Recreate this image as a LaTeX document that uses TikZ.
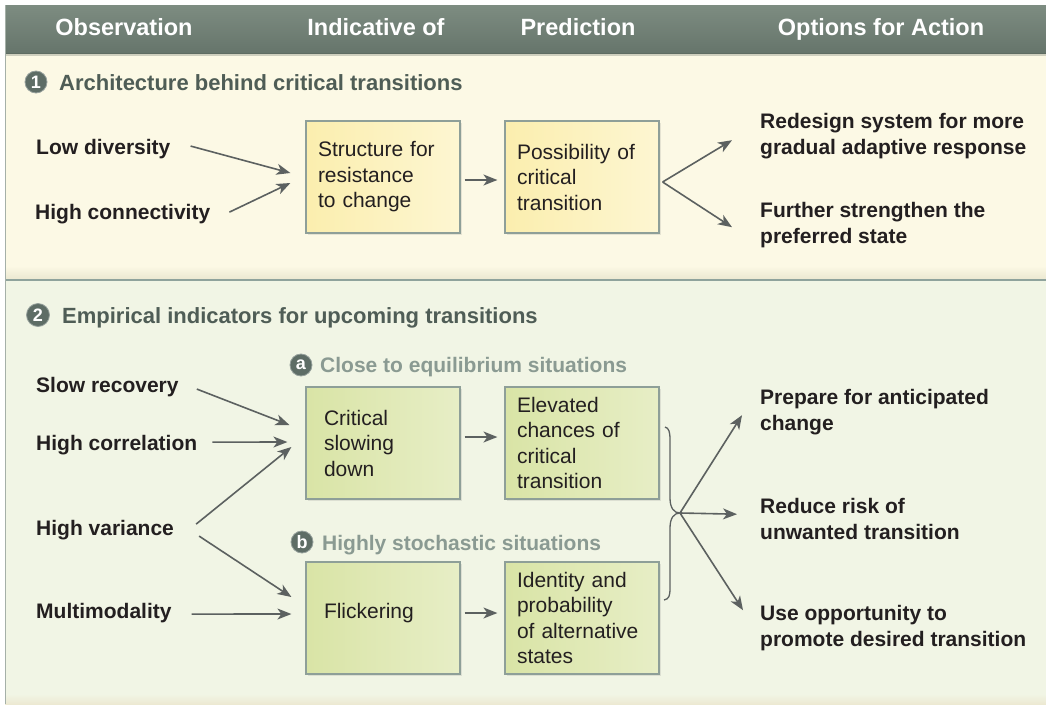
\documentclass[tikz,border=0pt]{standalone}
\usepackage{fontspec}
\setmainfont{Liberation Sans}
\usetikzlibrary{arrows.meta,calc,shadows}
\definecolor{headerc}{HTML}{7D8C81}
\definecolor{headerd}{HTML}{66756B}
\definecolor{secone}{HTML}{FCF9E5}
\definecolor{seconed}{HTML}{ECE9D2}
\definecolor{sectwo}{HTML}{F1F5E5}
\definecolor{sepc}{HTML}{8FA39C}
\definecolor{bordc}{HTML}{A5B0A8}
\definecolor{titlec}{HTML}{4F5D56}
\definecolor{subc}{HTML}{8A9A92}
\definecolor{circc}{HTML}{5E6D66}
\definecolor{boxyA}{HTML}{FBEEAE}
\definecolor{boxyB}{HTML}{FDF6D2}
\definecolor{boxgA}{HTML}{D9E4A6}
\definecolor{boxgB}{HTML}{E7EEC6}
\definecolor{boxbord}{HTML}{8E9F98}
\definecolor{arrowc}{HTML}{5C6160}
\definecolor{textc}{HTML}{231F20}
\tikzset{
  hdr/.style={text=white,font=\bfseries\fontsize{23.5}{26}\selectfont,inner sep=0},
  sectitle/.style={text=titlec,font=\bfseries\fontsize{22}{26}\selectfont,inner sep=0},
  subtitle/.style={text=subc,font=\bfseries\fontsize{21}{26}\selectfont,inner sep=0},
  numtext/.style={text=white,font=\bfseries\fontsize{18}{18}\selectfont,inner sep=0pt},
  numdisc/.style={fill=circc,draw=circc!65!white,line width=0.8pt},
  lab/.style={text=textc,font=\bfseries\fontsize{21}{26}\selectfont,inner sep=0},
  act/.style={text=textc,font=\bfseries\fontsize{21}{25.5}\selectfont,inner sep=0,align=left,anchor=west},
  basebox/.style={draw=boxbord,line width=1.2,minimum width=154,minimum height=112,
    align=left,text=textc,font=\fontsize{21}{25.5}\selectfont,inner ysep=4,
    drop shadow={opacity=0.18,shadow xshift=1.5pt,shadow yshift=-1.5pt}},
  ybox/.style={basebox,left color=boxyA,right color=boxyB},
  gbox/.style={basebox,left color=boxgA,right color=boxgB},
  narrowpad/.style={inner xsep=12,text width=130},
  widepad/.style={inner xsep=18,text width=118},
  arr/.style={draw=arrowc,line width=1.6,-{Stealth[length=14pt,width=11pt,inset=4pt]}},
  bracec/.style={draw=arrowc,line width=1.3}
}
\begin{document}
\begin{tikzpicture}[x=1pt,y=-1pt]
\useasboundingbox (0,0) rectangle (1046,704);
% backgrounds
\fill[white] (0,0) rectangle (1046,704);
\fill[secone] (5,53) rectangle (1046,279);
\shade[top color=secone,bottom color=seconed] (5,266) rectangle (1046,278.5);
\fill[sectwo] (5,280) rectangle (1046,704);
\shade[top color=sectwo,bottom color=seconed] (5,694) rectangle (1046,704);
\shade[top color=headerc,bottom color=headerd] (5,5) rectangle (1046,53);
\fill[headerd!70!black,opacity=0.25] (5,53) rectangle (1046,56);
\draw[sepc,line width=2] (5,279.5) -- (1046,279.5);
\draw[bordc,line width=1.2] (5.6,5) -- (5.6,704);

% header
\node[hdr,anchor=base] (hobs) at (124,35) {Observation};
\node[hdr,anchor=base] (hind) at (376,35) {Indicative of};
\node[hdr,anchor=base] (hpre) at (578,35) {Prediction};
\node[hdr,anchor=base] (hopt) at (881,35) {Options for Action};

% section 1
\coordinate (p1) at (36,82);
\path[numdisc] (p1) circle (11pt);
\node[numtext] (c1) at (p1) {1};
\node[sectitle,anchor=base west] (t1) at (59,90) {Architecture behind critical transitions};

\node[lab,anchor=base west] (lowdiv) at (36,154.5) {Low diversity};
\node[lab,anchor=base west] (highcon) at (35,219.5) {High connectivity};

\node[ybox,narrowpad] (boxA) at (383,177) {Structure for\\resistance\\to change};
\node[ybox,narrowpad] (boxB) at (582,177) {Possibility of\\critical\\transition};

\node[act] (act1) at (760,136.2) {\strut Redesign system for more\\gradual adaptive response\strut};
\node[act] (act2) at (760,225.2) {\strut Further strengthen the\\preferred state\strut};

\draw[arr] ($(lowdiv.east)+(20,-3)$) -- ($(boxA.west)+(-15,-4)$);
\draw[arr] ($(highcon.east)+(19,-2)$) -- ($(boxA.west)+(-15,6)$);
\draw[arr] ($(boxA.east)+(4,3)$) -- ($(boxB.west)+(-7,3)$);
\coordinate (fork1) at ($(boxB.east)+(3,5)$);
\draw[arr] (fork1) -- ($(act1.west)+(-28,4)$);
\draw[arr] (fork1) -- ($(act2.west)+(-28,2)$);

% section 2
\coordinate (p2) at (38,315);
\path[numdisc] (p2) circle (11.5pt);
\node[numtext] (c2) at (p2) {2};
\node[sectitle,anchor=base west] (t2) at (62,323) {Empirical indicators for upcoming transitions};

\coordinate (pa) at (301,365);
\path[numdisc] (pa) circle (11pt);
\node[numtext] (ca) at (pa) {a};
\node[subtitle,anchor=base west] (ta) at (320,372.5) {Close to equilibrium situations};
\coordinate (pb) at (302,542);
\path[numdisc] (pb) circle (11pt);
\node[numtext] (cb) at (pb) {b};
\node[subtitle,anchor=base west] (tb) at (322,550.5) {Highly stochastic situations};

\node[lab,anchor=base west] (slowrec) at (36,392.5) {Slow recovery};
\node[lab,anchor=base west] (highcor) at (36,450.5) {High correlation};
\node[lab,anchor=base west] (highvar) at (36,535.5) {High variance};
\node[lab,anchor=base west] (multi) at (36,618.5) {Multimodality};

\node[gbox,widepad] (boxC) at (383,443) {Critical\\slowing\\down};
\node[gbox,narrowpad] (boxD) at (582,443) {Elevated\\chances of\\critical\\transition};
\node[gbox,widepad] (boxE) at (383,618) {Flickering\rule[-15pt]{0pt}{15pt}};
\node[gbox,narrowpad] (boxF) at (582,618) {Identity and\\probability\\of alternative\\states};

\node[act] (act3) at (760,412.2) {\strut Prepare for anticipated\\change\strut};
\node[act] (act4) at (760,521.2) {\strut Reduce risk of\\unwanted transition\strut};
\node[act] (act5) at (760,628.2) {\strut Use opportunity to\\promote desired transition\strut};

\draw[arr] ($(slowrec.east)+(18,2)$) -- ($(boxC.west)+(-16,-18)$);
\draw[arr] ($(highcor.east)+(15,-3)$) -- ($(boxC.west)+(-18,-1)$);
\draw[arr] ($(highvar.east)+(22,-6)$) -- ($(boxC.west)+(-14,4)$);
\draw[arr] ($(highvar.east)+(25,6)$) -- ($(boxE.west)+(-14,-21)$);
\draw[arr] ($(multi.east)+(20,1)$) -- ($(boxE.west)+(-14,-4)$);
\draw[arr] ($(boxC.east)+(4,-6)$) -- ($(boxD.west)+(-7,-6)$);
\draw[arr] ($(boxE.east)+(4,-5)$) -- ($(boxF.west)+(-7,-5)$);

% brace
\coordinate (bt) at (680,513);
\draw[bracec] (665,427) .. controls (669,428) and (670,432) .. (670,440)
  -- (670,498) .. controls (670,508) and (674,513) .. (bt)
  .. controls (674,513) and (670,518) .. (670,528)
  -- (670,588) .. controls (670,596) and (669,599) .. (664,600);
\draw[arr] (bt) -- ($(act3.west)+(-18,3)$);
\draw[arr] (bt) -- ($(act4.west)+(-23,-7)$);
\draw[arr] (bt) -- ($(act5.west)+(-17,-18)$);
\end{tikzpicture}
\end{document}
